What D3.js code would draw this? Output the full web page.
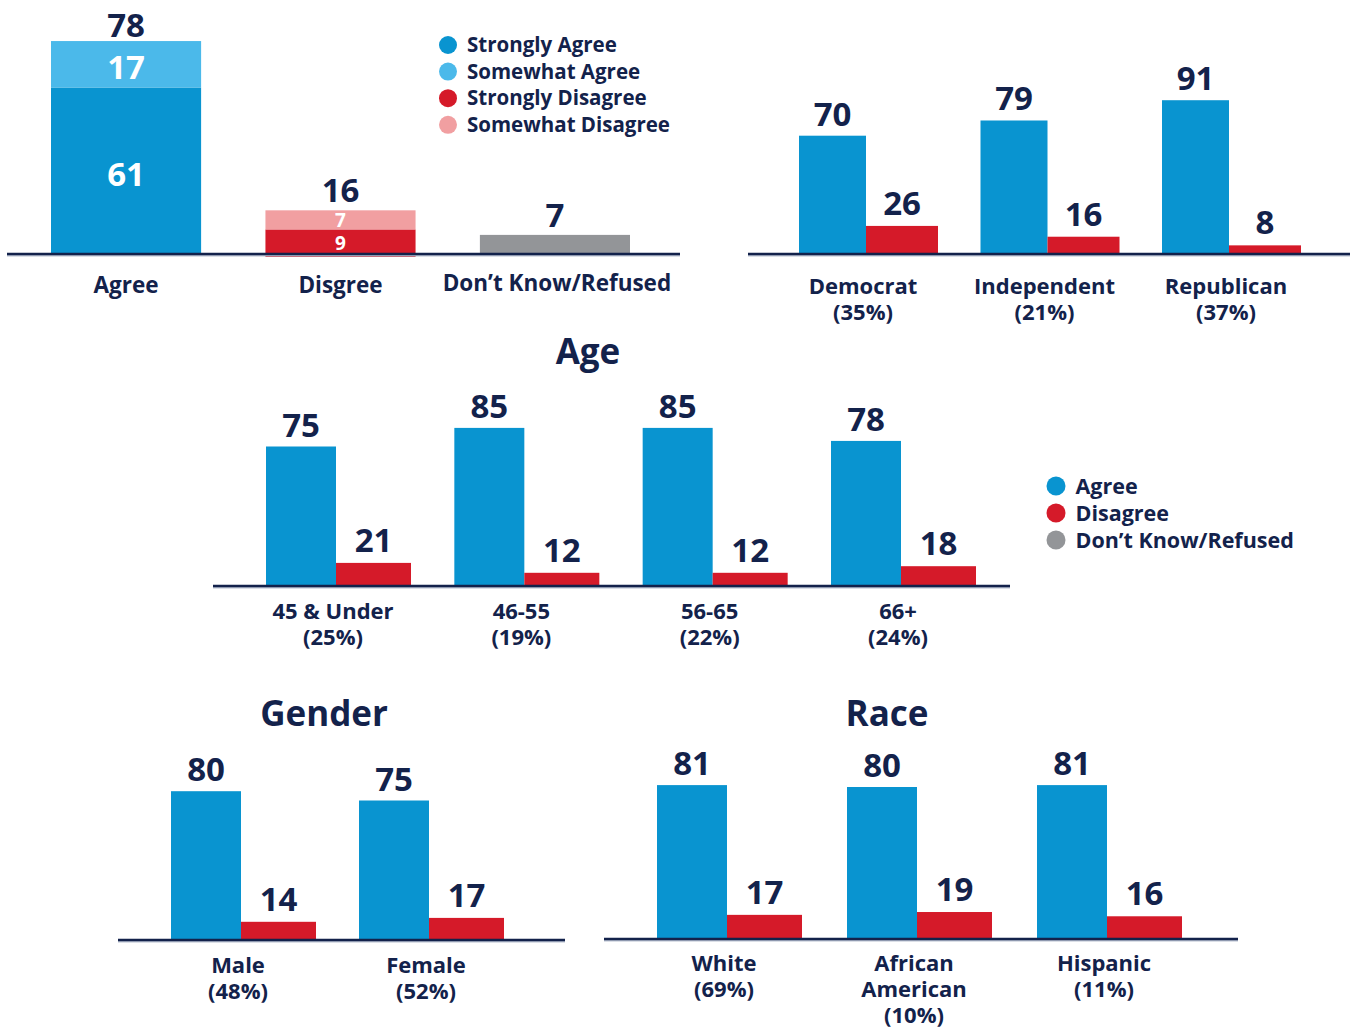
<!DOCTYPE html>
<html>
<head>
<meta charset="utf-8">
<script src="https://cdnjs.cloudflare.com/ajax/libs/d3/7.8.5/d3.min.js"></script>
<style>
  body { margin: 0; background: #fff; }
  svg text { font-family: "Open Sans", "Noto Sans", sans-serif; font-weight: 700; }
</style>
</head>
<body>
<div id="chart"></div>
<script>
// overall result (stacked)
var overallCategories = ["Agree", "Disgree", "Don’t Know/Refused"];
var overallStrong = [61, 9, 7];
var overallSomewhat = [17, 7, 0];
var overallTotal = [78, 16, 7];

var legendStacked = ["Strongly Agree", "Somewhat Agree", "Strongly Disagree", "Somewhat Disagree"];
var legendSimple = ["Agree", "Disagree", "Don’t Know/Refused"];

// party
var partyGroups = ["Democrat", "Independent", "Republican"];
var partyShares = ["(35%)", "(21%)", "(37%)"];
var partyAgree = [70, 79, 91];
var partyDisagree = [26, 16, 8];

// age
var ageGroups = ["45 & Under", "46-55", "56-65", "66+"];
var ageShares = ["(25%)", "(19%)", "(22%)", "(24%)"];
var ageAgree = [75, 85, 85, 78];
var ageDisagree = [21, 12, 12, 18];

// gender
var genderGroups = ["Male", "Female"];
var genderShares = ["(48%)", "(52%)"];
var genderAgree = [80, 75];
var genderDisagree = [14, 17];

// race
var raceGroups = ["White", "African American", "Hispanic"];
var raceShares = ["(69%)", "(10%)", "(11%)"];
var raceAgree = [81, 80, 81];
var raceDisagree = [17, 19, 16];

var navy = "#13224b";
var color = {
    strongAgree: "#0994d0",
    someAgree: "#4bb9ea",
    strongDis: "#d51a29",
    someDis: "#f19fa1",
    dk: "#939598"
};

var svg = d3.select("#chart")
    .append("svg")
    .attr("width", 1351)
    .attr("height", 1030);

function axisLine(x1, x2, y) {
    svg.append("line")
        .attr("x1", x1).attr("x2", x2)
        .attr("y1", y + 1.5).attr("y2", y + 1.5)
        .attr("stroke", "#b8c0d0").attr("stroke-width", 2);
    svg.append("line")
        .attr("x1", x1).attr("x2", x2)
        .attr("y1", y).attr("y2", y)
        .attr("stroke", navy).attr("stroke-width", 2.5);
}

function legend(items, colors, x, y, step, r, size) {
    var g = svg.append("g").attr("transform", "translate(" + x + "," + y + ")");
    items.forEach(function (d, i) {
        g.append("circle")
            .attr("cx", 0).attr("cy", i * step)
            .attr("r", r).attr("fill", colors[i]);
        g.append("text")
            .attr("x", r + 10).attr("y", i * step)
            .attr("dy", "0.35em")
            .attr("font-size", size)
            .attr("fill", navy)
            .text(d);
    });
}

// ---------- overall stacked panel ----------
(function () {
    var base = 254;
    var x = d3.scaleBand()
        .domain(overallCategories)
        .range([51, 630])
        .paddingInner(0.30);
    var y = d3.scaleLinear().domain([0, 100]).range([base, base - 273]);

    var g = svg.append("g");
    overallCategories.forEach(function (c, i) {
        var strongColor = i === 0 ? color.strongAgree : (i === 1 ? color.strongDis : color.dk);
        var someColor = i === 0 ? color.someAgree : color.someDis;
        var bx = x(c), bw = x.bandwidth();
        g.append("rect")
            .attr("x", bx).attr("width", bw)
            .attr("y", y(overallStrong[i]))
            .attr("height", y(0) - y(overallStrong[i]) + (i === 1 ? 3 : 0))
            .attr("fill", strongColor);
        if (overallSomewhat[i] > 0) {
            g.append("rect")
                .attr("x", bx).attr("width", bw)
                .attr("y", y(overallTotal[i]))
                .attr("height", y(overallStrong[i]) - y(overallTotal[i]))
                .attr("fill", someColor);
            var small = i === 1;
            g.append("text")
                .attr("x", bx + bw / 2)
                .attr("y", (y(overallStrong[i]) + y(overallTotal[i])) / 2 + (small ? 0 : 3))
                .attr("dy", "0.36em")
                .attr("text-anchor", "middle")
                .attr("font-size", small ? 19 : 33)
                .attr("fill", "#fff")
                .text(overallSomewhat[i]);
            g.append("text")
                .attr("x", bx + bw / 2)
                .attr("y", (y(overallStrong[i]) + y(0)) / 2 + (small ? 1 : 3))
                .attr("dy", "0.36em")
                .attr("text-anchor", "middle")
                .attr("font-size", small ? 19 : 33)
                .attr("fill", "#fff")
                .text(overallStrong[i]);
        }
        g.append("text")
            .attr("x", bx + bw / 2)
            .attr("y", y(overallTotal[i]) - (i === 0 ? 4 : 8))
            .attr("text-anchor", "middle")
            .attr("font-size", 33)
            .attr("fill", navy)
            .text(overallTotal[i]);
        g.append("text")
            .attr("x", bx + bw / 2 + (i === 2 ? 2 : 0))
            .attr("y", i === 2 ? 291 : 293)
            .attr("text-anchor", "middle")
            .attr("font-size", 22.5)
            .attr("fill", navy)
            .text(c);
    });
    axisLine(7, 680, base);
    legend(legendStacked, [color.strongAgree, color.someAgree, color.strongDis, color.someDis],
        448, 45, 26.6, 9, 20.5);
})();

// ---------- grouped panels ----------
function grouped(opt) {
    var x = d3.scalePoint().domain(opt.groups).range([opt.first, opt.last]);
    var yA = d3.scaleLinear().domain([0, 100]).range([opt.base, opt.base - 100 * opt.kA]);
    var yD = d3.scaleLinear().domain([0, 100]).range([opt.base, opt.base - 100 * opt.kD]);
    var g = svg.append("g");

    g.selectAll(".agree")
        .data(opt.agree)
        .enter()
        .append("rect")
        .attr("x", function (d, i) { return x(opt.groups[i]) - opt.wA; })
        .attr("width", opt.wA)
        .attr("y", function (d) { return yA(d); })
        .attr("height", function (d) { return yA(0) - yA(d); })
        .attr("fill", color.strongAgree);

    g.selectAll(".disagree")
        .data(opt.disagree)
        .enter()
        .append("rect")
        .attr("x", function (d, i) { return x(opt.groups[i]); })
        .attr("width", opt.wD)
        .attr("y", function (d) { return yD(d); })
        .attr("height", function (d) { return yD(0) - yD(d); })
        .attr("fill", color.strongDis);

    g.selectAll(".agreeLabel")
        .data(opt.agree)
        .enter()
        .append("text")
        .attr("x", function (d, i) { return x(opt.groups[i]) - opt.wA / 2; })
        .attr("y", function (d) { return yA(d) - 10; })
        .attr("text-anchor", "middle")
        .attr("font-size", 33)
        .attr("fill", navy)
        .text(function (d) { return d; });

    g.selectAll(".disLabel")
        .data(opt.disagree)
        .enter()
        .append("text")
        .attr("x", function (d, i) { return x(opt.groups[i]) + opt.wD / 2; })
        .attr("y", function (d) { return yD(d) - 11; })
        .attr("text-anchor", "middle")
        .attr("font-size", 33)
        .attr("fill", navy)
        .text(function (d) { return d; });

    axisLine(opt.axis[0], opt.axis[1], opt.base);

    opt.groups.forEach(function (grp, i) {
        var lines = grp === "African American" ? ["African", "American"] : [grp];
        lines.push(opt.shares[i]);
        var t = g.append("text")
            .attr("text-anchor", "middle")
            .attr("font-size", 22)
            .attr("fill", navy);
        lines.forEach(function (l, j) {
            t.append("tspan")
                .attr("x", x(grp) - 3)
                .attr("y", opt.base + opt.labelOffset + j * 26)
                .text(l);
        });
    });

    if (opt.title) {
        svg.append("text")
            .attr("x", opt.title[1])
            .attr("y", opt.title[2])
            .attr("text-anchor", "middle")
            .attr("font-size", 35)
            .attr("fill", navy)
            .text(opt.title[0]);
    }
}

grouped({
    groups: partyGroups, shares: partyShares, agree: partyAgree, disagree: partyDisagree,
    first: 866, last: 1229, base: 254, kA: 1.69, kD: 1.08, wA: 67, wD: 72, axis: [748, 1350],
    labelOffset: 40
});

grouped({
    groups: ageGroups, shares: ageShares, agree: ageAgree, disagree: ageDisagree,
    first: 336, last: 901, base: 586, kA: 1.86, kD: 1.1, wA: 70, wD: 75, axis: [213, 1010],
    labelOffset: 33, title: ["Age", 588, 364]
});

grouped({
    groups: genderGroups, shares: genderShares, agree: genderAgree, disagree: genderDisagree,
    first: 241, last: 429, base: 940, kA: 1.86, kD: 1.3, wA: 70, wD: 75, axis: [118, 565],
    labelOffset: 33, title: ["Gender", 324, 726]
});

grouped({
    groups: raceGroups, shares: raceShares, agree: raceAgree, disagree: raceDisagree,
    first: 727, last: 1107, base: 939, kA: 1.9, kD: 1.42, wA: 70, wD: 75, axis: [604, 1238],
    labelOffset: 32, title: ["Race", 887, 726]
});

legend(legendSimple, [color.strongAgree, color.strongDis, color.dk], 1056, 486, 27, 9.5, 21.5);
</script>
</body>
</html>
